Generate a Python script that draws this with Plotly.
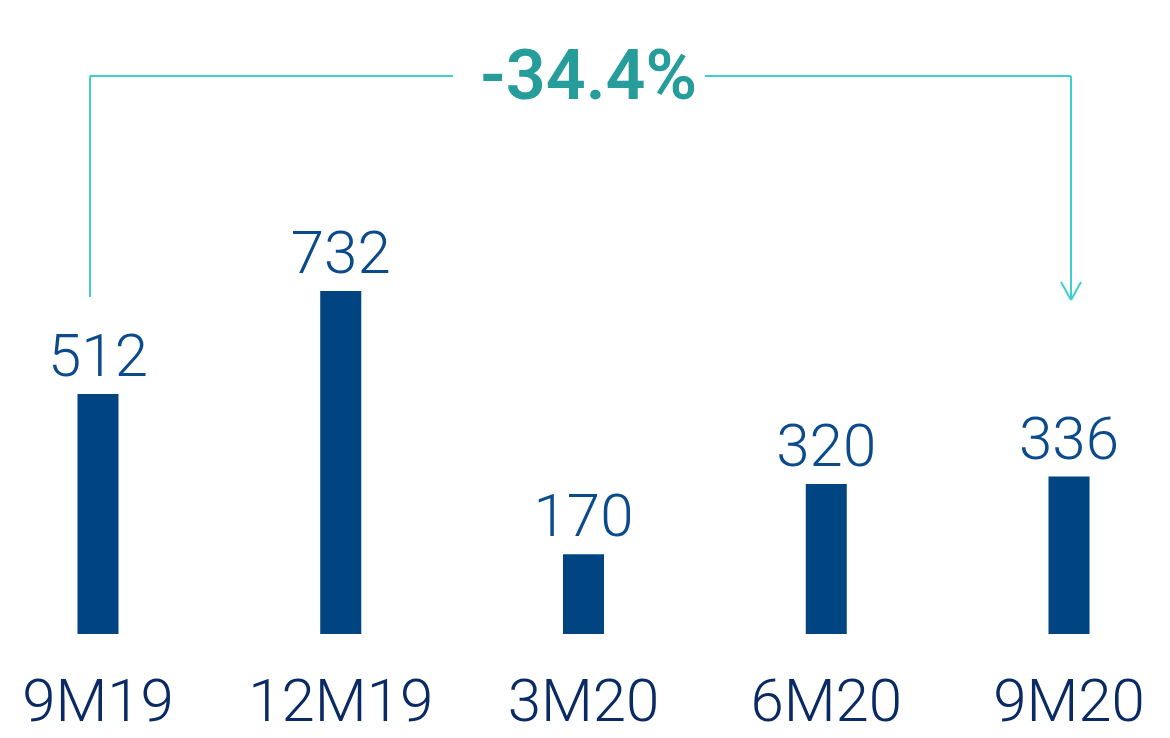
import plotly.graph_objects as go

categories = ["9M19", "12M19", "3M20", "6M20", "9M20"]
values = [512, 732, 170, 320, 336]
change_label = "-34.4%"

W, H = 1170, 738
PLOT_H = 634
BAR = "#004481"
LINE = "#3ECFD0"

fig = go.Figure(go.Bar(
    x=list(range(len(categories))), y=values,
    width=0.169, marker=dict(color=BAR, line=dict(width=0)),
    text=[str(v) for v in values], textposition="outside",
    constraintext="none",
    textfont=dict(family="Roboto", size=60, color="#0B4A8B", weight=300),
    cliponaxis=False,
))

def px(x):
    return x / W

def py(y):
    return 1 - y / PLOT_H

shapes = []
def seg(x0, y0, x1, y1):
    shapes.append(dict(type="line", xref="paper", yref="paper",
                       x0=px(x0), y0=py(y0), x1=px(x1), y1=py(y1),
                       line=dict(color=LINE, width=2)))

seg(90, 297, 90, 76)
seg(90, 76, 453, 76)
seg(705, 76, 1071, 76)
seg(1071, 76, 1071, 300)
seg(1061, 282, 1071, 300)
seg(1081, 282, 1071, 300)

fig.update_layout(
    width=W, height=H,
    margin=dict(l=0, r=0, t=0, b=H - PLOT_H),
    paper_bgcolor="white", plot_bgcolor="white",
    showlegend=False,
    xaxis=dict(range=[-0.4037, 4.416], tickmode="array",
               tickvals=list(range(len(categories))), ticktext=categories,
               showgrid=False, zeroline=False, showline=False, ticks="",
               tickfont=dict(family="Roboto", size=60, color="#0A2A63", weight=300),
               automargin=False, ticklabelstandoff=26),
    yaxis=dict(range=[0, PLOT_H / 0.46875], visible=False, fixedrange=True),
    shapes=shapes,
    annotations=[dict(text=change_label, xref="paper", yref="paper",
                      x=px(588), y=py(75), xanchor="center", yanchor="middle",
                      showarrow=False,
                      font=dict(family="Roboto", size=70, color="#269D9B", weight=600))],
)

fig.write_html("out.html")
